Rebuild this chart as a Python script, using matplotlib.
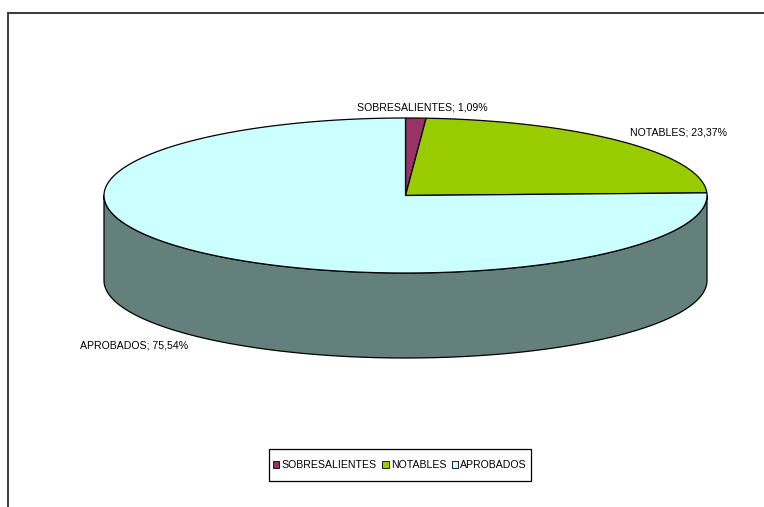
import numpy as np
import matplotlib
matplotlib.use("Agg")
import matplotlib.pyplot as plt
from matplotlib.patches import Polygon, Patch, Rectangle
from matplotlib.lines import Line2D

plt.rcParams['font.family'] = ['Liberation Sans', 'DejaVu Sans']

categories = ["SOBRESALIENTES", "NOTABLES", "APROBADOS"]
percentages = [1.09, 23.37, 75.54]
top_colors = ["#993366", "#99CC00", "#CCFFFF"]
side_colors = ["#4D1A33", "#4D6600", "#64807C"]

W, H = 764, 507
fig = plt.figure(figsize=(W / 100, H / 100), dpi=100)
ax = fig.add_axes([0, 0, 1, 1])
ax.set_xlim(0, W)
ax.set_ylim(H, 0)
ax.axis("off")

# 3D pie geometry (pixel space, y grows downward)
cx, cy = 405.5, 195.5
rx, ry = 301.5, 77.5
depth = 85


def ell(theta_deg, dy=0.0):
    t = np.radians(theta_deg)
    return cx + rx * np.cos(t), cy - ry * np.sin(t) + dy


# slice angles: start at 12 o'clock, run clockwise
total = float(sum(percentages))
cum = np.concatenate([[0.0], np.cumsum(percentages)])
starts = 90 - 360 * cum[:-1] / total
ends = 90 - 360 * cum[1:] / total

# side walls: only the front half (angles in [-180, 0] modulo 360) is visible
for s, e, col in zip(starts, ends, side_colors):
    for k in range(-2, 2):
        lo, hi = -180 + 360 * k, 0 + 360 * k
        a = min(s, hi)
        b = max(e, lo)
        if a <= b:
            continue
        th = np.linspace(a, b, 200)
        tx, ty = ell(th)
        bx, by = ell(th[::-1], depth)
        poly = Polygon(np.column_stack([np.concatenate([tx, bx]),
                                        np.concatenate([ty, by])]),
                       closed=True, facecolor=col, edgecolor="black",
                       linewidth=0.9, joinstyle="round")
        ax.add_patch(poly)

# top faces
for s, e, col in zip(starts, ends, top_colors):
    th = np.linspace(s, e, 300)
    px, py = ell(th)
    pts = np.column_stack([np.concatenate([[cx], px]),
                           np.concatenate([[cy], py])])
    ax.add_patch(Polygon(pts, closed=True, facecolor=col, edgecolor="black",
                         linewidth=0.9, joinstyle="round"))

# data labels
fs = 7.6
def fmt(name, v):
    return f"{name}; {v:.2f}%".replace(".", ",")

mids = (starts + ends) / 2
label_layout = [
    dict(dx=6, dy=-11, ha="center"),
    dict(dx=8, dy=-9, ha="left"),
    dict(dx=-8, dy=94, ha="right"),
]
for name, v, m, lay in zip(categories, percentages, mids, label_layout):
    x0, y0 = ell(m)
    ax.text(x0 + lay["dx"], y0 + lay["dy"], fmt(name, v), ha=lay["ha"],
            va="center", fontsize=fs, color="black")

# outer chart frame (left and top edges visible)
ax.add_line(Line2D([7.5, 7.5], [H + 5, 12.5], color="#3a3a3a", linewidth=1.4))
ax.add_line(Line2D([7.5, W + 5], [12.5, 12.5], color="#3a3a3a", linewidth=1.4))

# legend: entries without frame, then a box with wider vertical padding
handles = [Patch(facecolor=c, edgecolor="black", linewidth=0.6) for c in top_colors]
leg = fig.legend(handles, categories, loc="center", ncol=3,
                 bbox_to_anchor=(400 / W, 1 - 465 / H), fontsize=fs,
                 frameon=False, handlelength=0.6,
                 handleheight=0.6, handletextpad=0.2, columnspacing=0.55,
                 borderpad=0.0, borderaxespad=0)
fig.canvas.draw()
bb = leg.get_window_extent()
px_pad, py_pad = 4, 11
x0, x1 = bb.x0 - px_pad, bb.x1 + px_pad
y_mid = H - (bb.y0 + bb.y1) / 2
half_h = (bb.y1 - bb.y0) / 2 + py_pad
ax.add_patch(Rectangle((x0, y_mid - half_h), x1 - x0, 2 * half_h,
                       facecolor="none", edgecolor="black", linewidth=0.9))

fig.savefig("out.png", dpi=100)
